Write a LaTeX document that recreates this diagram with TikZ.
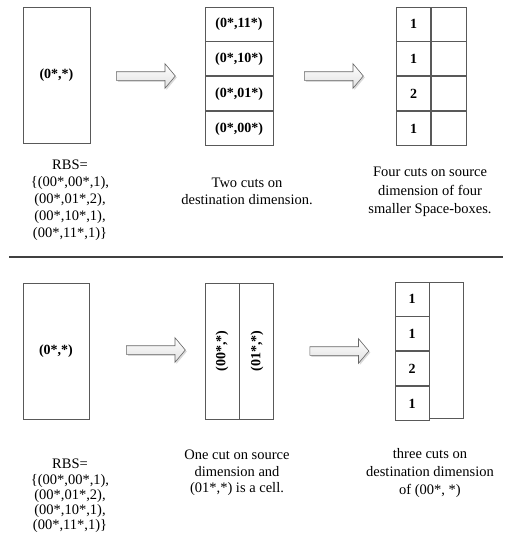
\documentclass[tikz,border=0pt]{standalone}
\usepackage{fontspec}
\setmainfont{Liberation Serif}
\usetikzlibrary{positioning,shapes.arrows,shadows}
\tikzstyle{spacebox} = [draw=black!65, line width=0.9pt, rectangle, inner sep=0pt, font=\fontsize{14}{16}\selectfont\bfseries]
\tikzstyle{cell} = [spacebox, minimum width=68pt, minimum height=34pt]
\tikzstyle{half} = [spacebox, minimum width=34.5pt, minimum height=34pt]
\tikzstyle{column} = [spacebox, minimum width=34pt, minimum height=136pt]
\tikzstyle{cutarrow} = [single arrow, draw=black!60, line width=0.6pt, top color=white, bottom color=black!12, minimum height=59pt, inner xsep=0pt, inner ysep=4pt, single arrow head extend=8pt, single arrow tip angle=100, drop shadow={opacity=0.3, shadow xshift=1.5pt, shadow yshift=-1.5pt}]
\tikzstyle{note} = [align=center, inner sep=0pt, anchor=north, font=\fontsize{14.5}{17}\selectfont]
\tikzstyle{sepline} = [draw=black!75, line width=2pt]

\begin{document}
\begin{tikzpicture}[x=1pt, y=1pt]
    \useasboundingbox (0,0) rectangle (505,-533);

    % Upper row: cut on destination first
    \node [spacebox, minimum width=67pt, minimum height=136pt] (whole1) at (56.5,-75) {(0*,*)};
    \node [cutarrow] (arr1) at (144,-76) {};
    \node [cell] (d11) at (239,-24) {(0*,11*)};
    \node [cell, below=0pt of d11] (d10) {(0*,10*)};
    \node [cell, below=0pt of d10] (d01) {(0*,01*)};
    \node [cell, below=0pt of d01] (d00) {(0*,00*)};
    \node [cutarrow] (arr2) at (332,-76) {};
    \node [half] (s11) at (413.5,-24) {1};
    \node [half, right=0pt of s11] (e11) {};
    \node [half, below=0pt of s11] (s10) {1};
    \node [half, right=0pt of s10] (e10) {};
    \node [half, below=0pt of s10] (s01) {2};
    \node [half, right=0pt of s01] (e01) {};
    \node [half, below=0pt of s01] (s00) {1};
    \node [half, right=0pt of s00] (e00) {};

    % Upper captions
    \node [note] (rbs1) at (70,-160) {RBS=\\\{(00*,00*,1),\\(00*,01*,2),\\(00*,10*,1),\\(00*,11*,1)\}};
    \node [note] (twocuts) at (247,-178) {Two cuts on\\destination dimension.};
    \node [note, font=\fontsize{14.5}{18.5}\selectfont] (fourcuts) at (430,-167) {Four cuts on source\\dimension of four\\smaller Space-boxes.};

    % Separator
    \coordinate (sepl) at (9,-257);
    \coordinate (sepr) at (503,-257);
    \path [sepline] (sepl) -- (sepr);

    % Lower row: cut on source first
    \node [spacebox, minimum width=66pt, minimum height=136pt] (whole2) at (56,-351) {(0*,*)};
    \node [cutarrow] (arr3) at (154,-350) {};
    \node [column] (c00) at (222,-351) {\rotatebox{90}{(00*,*)}};
    \node [column, right=0pt of c00] (c01) {\rotatebox{90}{(01*,*)}};
    \node [cutarrow] (arr4) at (337.5,-351) {};
    \node [half, minimum width=34pt] (t11) at (412,-299) {1};
    \node [half, minimum width=34pt, below=0pt of t11] (t10) {1};
    \node [half, minimum width=34pt, below=0pt of t10] (t01) {2};
    \node [half, minimum width=34pt, below=0pt of t01] (t00) {1};
    \node [column, anchor=north west] (rest) at (t11.north east) {};

    % Lower captions
    \node [note, font=\fontsize{14.5}{15.2}\selectfont] (rbs2) at (70,-459) {RBS=\\\{(00*,00*,1),\\(00*,01*,2),\\(00*,10*,1),\\(00*,11*,1)\}};
    \node [note, font=\fontsize{14.5}{16.5}\selectfont] (onecut) at (237,-450) {One cut on source\\dimension and\\(01*,*) is a cell.};
    \node [note, font=\fontsize{14.5}{18}\selectfont] (threecuts) at (430,-448) {three cuts on\\destination dimension\\of (00*, *)};
\end{tikzpicture}
\end{document}
